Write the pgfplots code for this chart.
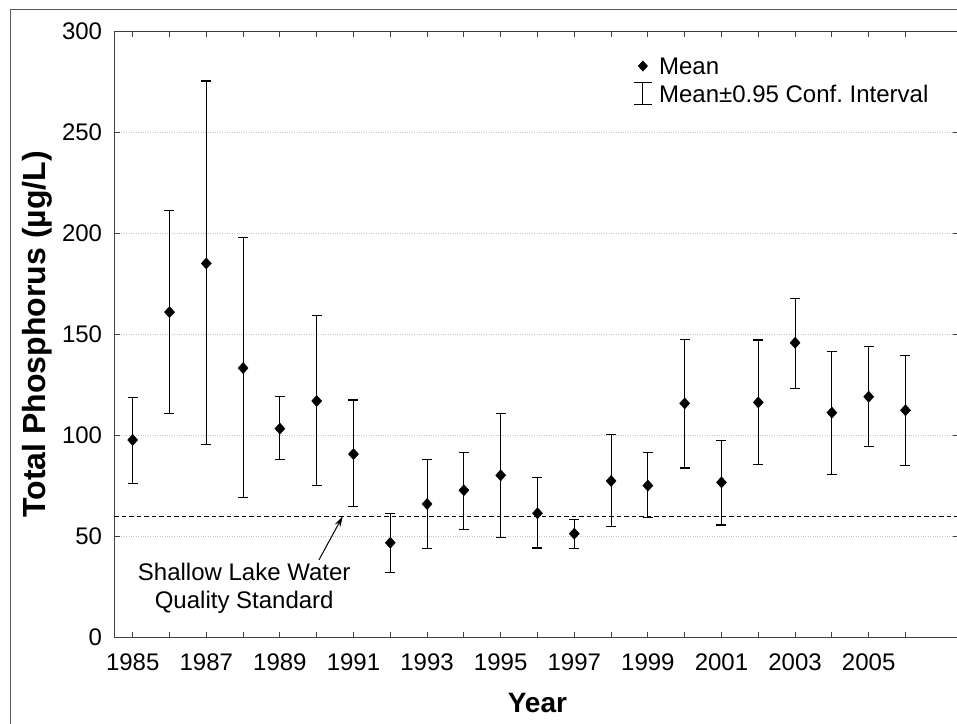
\documentclass[border=0pt]{standalone}
\usepackage{fontspec}
\setmainfont{Liberation Sans}
\usepackage{pgfplots}
\usepackage{pgfplotstable}
\pgfplotsset{compat=1.18}
\usetikzlibrary{arrows.meta}
\frenchspacing

\pgfplotstableread{
year mean lo hi
1985 97.7 76.2 118.8
1986 161.0 111.0 211.2
1987 185.1 95.5 275.4
1988 133.3 69.1 198.0
1989 103.3 87.8 119.1
1990 117.0 75.1 159.1
1991 90.7 64.7 117.5
1992 46.8 32.3 61.2
1993 66.0 43.9 87.9
1994 72.8 53.5 91.7
1995 80.2 49.5 111.0
1996 61.4 44.2 79.0
1997 51.3 43.9 58.2
1998 77.4 54.8 100.3
1999 75.1 59.2 91.4
2000 115.8 83.8 147.5
2001 76.7 55.6 97.5
2002 116.3 85.6 147.2
2003 145.8 123.3 167.8
2004 111.2 80.7 141.7
2005 119.1 94.4 144.0
2006 112.4 85.0 139.4
}\tpdata

\newcommand{\tickfont}{\fontsize{24}{28}\selectfont}

\begin{document}
\begin{tikzpicture}
\begin{axis}[
  x=36.8pt, y=2.02pt,
  xmin=1984.5, xmax=2007.45,
  ymin=0, ymax=300,
  clip=false,
  xtick={1985,1987,...,2005},
  minor xtick={1986,1988,...,2008},
  ytick={0,50,...,300},
  xticklabel style={font=\tickfont, inner sep=0pt, anchor=north, yshift=-16pt},
  yticklabel style={font=\tickfont, inner sep=0pt, anchor=east, xshift=-12pt},
  /pgf/number format/assume math mode=true,
  /pgf/number format/1000 sep={},
  tick align=inside,
  major tick length=5.5pt, minor tick length=5.5pt,
  tick style={black!75, line width=1pt},
  axis line style={black!75, line width=1.2pt},
  ymajorgrids,
  major grid style={gray!45, dotted, line width=0.8pt},
  xlabel={\bfseries Year},
  ylabel={\bfseries Total Phosphorus (µg/L)},
  xlabel style={font=\fontsize{28}{32}\selectfont, at={(axis description cs:0.501,-0.1084)}, anchor=center},
  ylabel style={font=\fontsize{32}{36}\selectfont, at={(axis description cs:-0.0909,0.5)}, anchor=center},
  legend style={font=\tickfont, at={(axis cs:1998.6,287)}, anchor=north west,
    draw=none, fill=none, inner sep=0pt, row sep=8pt, column sep=0pt,
    nodes={inner sep=0pt, text depth=0pt}},
  legend cell align=left,
]
\addlegendimage{legend image code/.code={\path (-9pt,0pt) (16pt,0pt);
    \draw[black, mark=diamond*, mark size=5.2pt, mark options={black, fill=black, xscale=1.2}]
      plot coordinates {(0pt,0pt)};}}
\addlegendentry{Mean}
\addlegendimage{legend image code/.code={\path (-9pt,0pt) (16pt,0pt);
    \draw[black, line width=1.1pt] (0pt,-11pt) -- (0pt,11pt) (-9pt,-11pt) -- (9pt,-11pt) (-9pt,11pt) -- (9pt,11pt);}}
\addlegendentry{Mean±0.95 Conf. Interval}

% means with 0.95 confidence intervals
\addplot[only marks, mark=diamond*, mark size=5.6pt, black, forget plot,
  mark options={black, fill=black, xscale=1.2},
  error bars/.cd, y dir=both, y explicit,
  error bar style={black, line width=1.1pt},
  error mark options={black, line width=1.1pt, mark size=5pt, rotate=90}]
  table[x=year, y=mean, y error plus expr=\thisrow{hi}-\thisrow{mean},
        y error minus expr=\thisrow{mean}-\thisrow{lo}] {\tpdata};

% standard
\addplot[black, dash pattern=on 4.5pt off 3pt, line width=1pt, forget plot]
  coordinates {(1984.5,60) (2007.45,60)};
\draw[-{Stealth[length=11pt,width=6pt]}, black, line width=1pt]
  (axis cs:1990.06,38.3) -- (axis cs:1990.71,60);
\node[font=\tickfont, anchor=base, inner sep=0pt] at (axis cs:1988.03,28.0) {Shallow Lake Water};
\node[font=\tickfont, anchor=base, inner sep=0pt] at (axis cs:1988.03,14.5) {Quality Standard};

% outer frame and page box
\draw[black!65, line width=1pt] (axis cs:1981.666,-60) -- (axis cs:1981.666,310.55) -- (axis cs:2010,310.55);
\coordinate (bl) at (axis cs:1981.394,-42.92);
\coordinate (tr) at (axis cs:2007.40,315.5);
\end{axis}
\pgfresetboundingbox
\useasboundingbox (bl) rectangle (tr);
\end{tikzpicture}
\end{document}
